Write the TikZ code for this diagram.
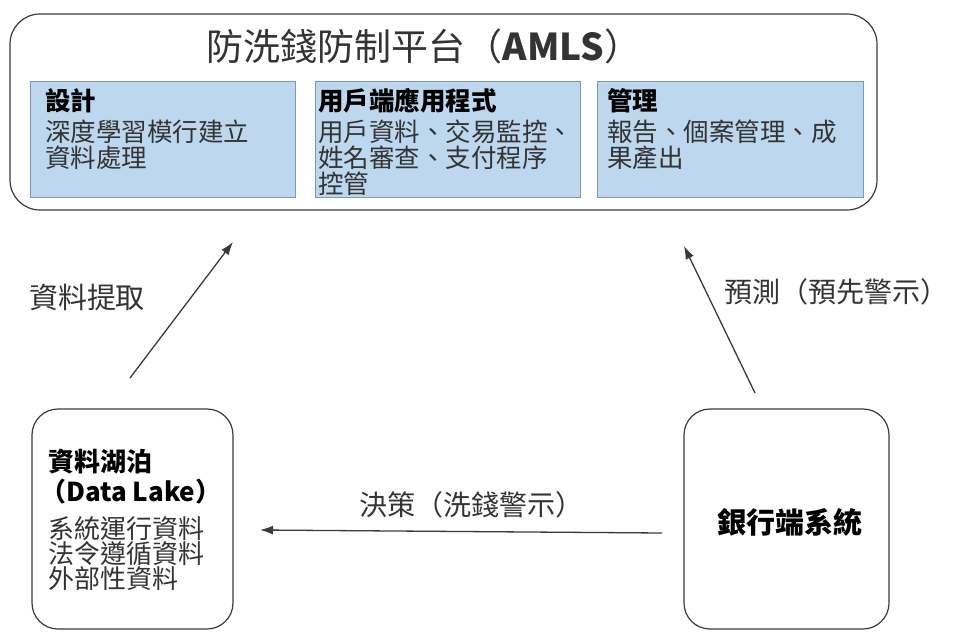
\documentclass[tikz,border=0pt]{standalone}
\usepackage{fontspec}
\setmainfont{Noto Sans CJK TC}
\usetikzlibrary{arrows.meta}
\definecolor{boxblue}{HTML}{BDD7EE}
\definecolor{boxedge}{HTML}{7F99B5}
\definecolor{edgegray}{HTML}{3A3A3A}
\definecolor{txtgray}{HTML}{333333}
\tikzset{
  outerbox/.style={draw=edgegray, line width=1.2pt, rounded corners=30pt, minimum width=867pt, minimum height=196pt, inner sep=0pt},
  bluebox/.style={draw=boxedge, line width=1pt, fill=boxblue, minimum height=116pt, inner sep=0pt},
  sidebox/.style={draw=edgegray, line width=1.2pt, rounded corners=26pt, minimum height=220pt, inner sep=0pt},
  linetxt/.style={anchor=base west, inner sep=0pt, text=txtgray, font=\fontsize{25.5}{26}\selectfont},
  headtxt/.style={anchor=base west, inner sep=0pt, text=black, font=\fontsize{25.5}{26}\selectfont\bfseries},
  dltxt/.style={anchor=base west, inner sep=0pt, text=txtgray, font=\fontsize{26}{26}\selectfont},
  dlhead/.style={anchor=base west, inner sep=0pt, text=black, font=\fontsize{26}{26}\selectfont\bfseries},
  lbl/.style={inner sep=0pt, text=txtgray, font=\fontsize{28}{28}\selectfont},
  arr/.style={draw=edgegray, line width=1.3pt, -{Latex[length=13pt,width=9pt]}}
}
\begin{document}
\begin{tikzpicture}[x=1pt,y=-1pt]
\useasboundingbox (0,0) rectangle (954,632);
% outer platform box
\node[outerbox] (platform) at (443.5,112) {};
\node[inner sep=0pt, text=txtgray, font=\fontsize{37}{37}\selectfont] (title) at (424,46) {防洗錢防制平台（\textbf{AMLS}）};
% inner blue boxes
\node[bluebox, minimum width=265pt] (design) at (162.5,139) {};
\node[bluebox, minimum width=265pt] (client) at (447.5,139) {};
\node[bluebox, minimum width=266pt] (manage) at (730,139) {};
% design text
\node[headtxt] (d0) at (45,110) {設計};
\node[linetxt] (d1) at (45,141) {深度學習模行建立};
\node[linetxt] (d2) at (45,167) {資料處理};
% client text
\node[headtxt] (c0) at (318,110) {用戶端應用程式};
\node[linetxt] (c1) at (318,141) {用戶資料、交易監控、};
\node[linetxt] (c2) at (318,167) {姓名審查、支付程序};
\node[linetxt] (c3) at (318,193) {控管};
% manage text
\node[headtxt] (m0) at (607,110) {管理};
\node[linetxt] (m1) at (607,141) {報告、個案管理、成};
\node[linetxt] (m2) at (607,167) {果產出};
% data lake box
\node[sidebox, minimum width=201pt] (lake) at (132.5,519) {};
\node[dlhead] (l0) at (48,471) {資料湖泊};
\node[dlhead] (l1) at (40,501) {（Data Lake）};
\node[dltxt] (l2) at (48,538) {系統運行資料};
\node[dltxt] (l3) at (48,563) {法令遵循資料};
\node[dltxt] (l4) at (48,588) {外部性資料};
% bank box
\node[sidebox, minimum width=205pt] (bank) at (786.5,519) {};
\node[inner sep=0pt, text=black, font=\fontsize{29}{29}\selectfont\bfseries] (banktxt) at (790,522) {銀行端系統};
% arrows
\coordinate (a1s) at (130,378);
\coordinate (a1e) at (233,242);
\coordinate (a2s) at (755,393);
\coordinate (a2e) at (684,246);
\coordinate (a3s) at (662,533);
\coordinate (a3e) at (260,530);
\draw[arr] (a1s) -- (a1e);
\draw[arr] (a2s) -- (a2e);
\draw[arr] (a3s) -- (a3e);
% labels
\node[lbl, font=\fontsize{29}{29}\selectfont] (lbl1) at (87,297) {資料提取};
\node[lbl] (lbl2) at (836,292) {預測（預先警示）};
\node[lbl] (lbl3) at (471,505) {決策（洗錢警示）};
\end{tikzpicture}
\end{document}
